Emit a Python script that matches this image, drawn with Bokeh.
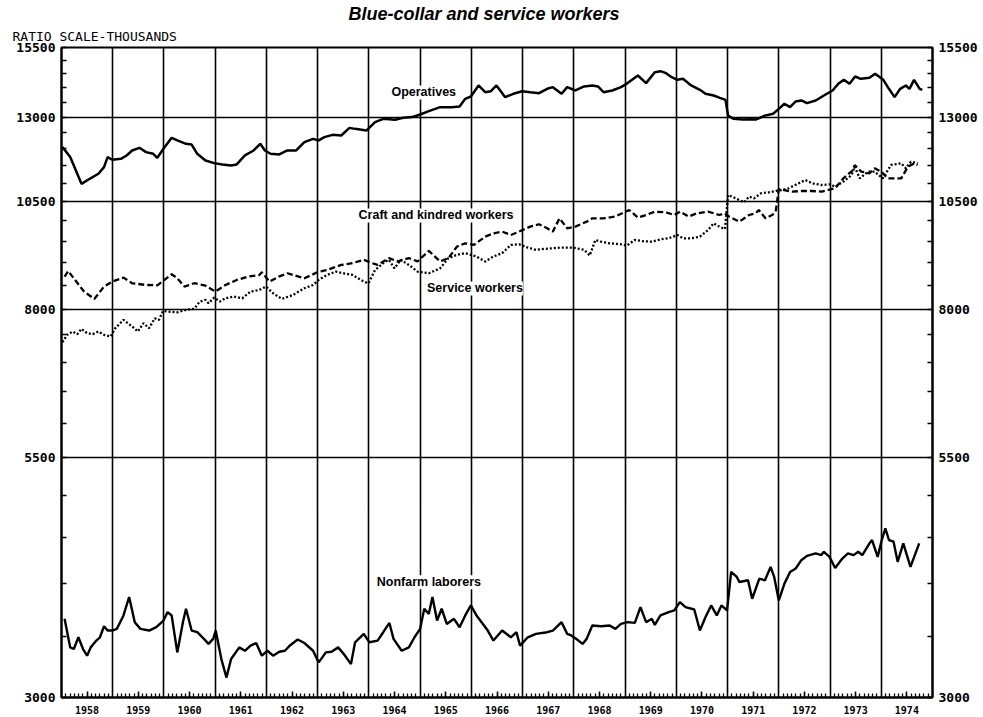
from bokeh.plotting import figure
from bokeh.models import (Range1d, FixedTicker, CustomJSTickFormatter, LogAxis, Label, Title)
from bokeh.embed import file_html
from bokeh.resources import INLINE

# ---------------- data (thousands of workers, ratio scale) ----------------
op_t = [1958.02, 1958.17, 1958.39, 1958.55, 1958.72, 1958.83, 1958.90, 1958.99, 1959.16, 1959.27,
        1959.38, 1959.52, 1959.65, 1959.79, 1959.87, 1959.99, 1960.15, 1960.26, 1960.43, 1960.54,
        1960.65, 1960.81, 1960.98, 1961.14, 1961.31, 1961.42, 1961.58, 1961.75, 1961.88, 1961.97,
        1962.08, 1962.25, 1962.41, 1962.58, 1962.74, 1962.91, 1963.02, 1963.13, 1963.29, 1963.46,
        1963.62, 1963.73, 1963.95, 1964.12, 1964.28, 1964.51, 1964.67, 1964.84, 1965.00, 1965.17,
        1965.39, 1965.61, 1965.77, 1965.88, 1965.99, 1966.14, 1966.27, 1966.38, 1966.49, 1966.66,
        1966.82, 1966.99, 1967.15, 1967.32, 1967.48, 1967.59, 1967.76, 1967.87, 1968.03, 1968.20,
        1968.36, 1968.47, 1968.58, 1968.75, 1968.92, 1969.03, 1969.19, 1969.25, 1969.41, 1969.58,
        1969.69, 1969.80, 1969.91, 1970.02, 1970.13, 1970.29, 1970.46, 1970.57, 1970.73, 1970.85,
        1970.96, 1971.01, 1971.12, 1971.29, 1971.45, 1971.56, 1971.73, 1971.89, 1972.00, 1972.11,
        1972.22, 1972.33, 1972.44, 1972.55, 1972.72, 1972.88, 1973.05, 1973.16, 1973.27, 1973.38,
        1973.49, 1973.60, 1973.77, 1973.88, 1974.04, 1974.15, 1974.26, 1974.37, 1974.48, 1974.55,
        1974.64, 1974.75, 1974.80]
op_v = [12051, 11751, 10983, 11124, 11266, 11456, 11751, 11672, 11700, 11800,
        11949, 12030, 11900, 11850, 11730, 12000, 12338, 12256, 12152, 12130,
        11850, 11651, 11573, 11535, 11505, 11535, 11800, 11949, 12152, 11949,
        11850, 11830, 11949, 11949, 12203, 12306, 12256, 12359, 12431, 12410,
        12652, 12620, 12565, 12836, 12944, 12912, 12977, 13000, 13087, 13198,
        13331, 13331, 13353, 13615, 13696, 14082, 13846, 13880, 14082, 13673,
        13789, 13880, 13846, 13812, 13964, 14023, 13789, 14023, 13905, 14047,
        14082, 14047, 13846, 13905, 14023, 14141, 14357, 14441, 14165, 14564,
        14600, 14527, 14381, 14285, 14321, 14082, 13929, 13789, 13730, 13650,
        13580, 13050, 12944, 12923, 12933, 12923, 13050, 13110, 13275, 13445,
        13331, 13525, 13558, 13468, 13558, 13730, 13905, 14141, 14285, 14141,
        14405, 14321, 14357, 14503, 14285, 13964, 13673, 13964, 14082, 13964,
        14285, 13964, 13929]

craft_t = [1958.06, 1958.13, 1958.44, 1958.64, 1958.83, 1958.99, 1959.21, 1959.38, 1959.65, 1959.87,
           1960.15, 1960.26, 1960.40, 1960.59, 1960.81, 1961.00, 1961.20, 1961.42, 1961.64, 1961.86,
           1961.91, 1962.06, 1962.24, 1962.41, 1962.63, 1962.74, 1963.02, 1963.18, 1963.46, 1963.68,
           1963.90, 1964.06, 1964.17, 1964.39, 1964.56, 1964.78, 1964.95, 1965.17, 1965.39, 1965.55,
           1965.72, 1965.88, 1966.05, 1966.27, 1966.43, 1966.60, 1966.77, 1966.93, 1967.15, 1967.32,
           1967.48, 1967.59, 1967.72, 1967.87, 1968.03, 1968.25, 1968.36, 1968.58, 1968.80, 1969.08,
           1969.25, 1969.41, 1969.58, 1969.80, 1969.96, 1970.07, 1970.24, 1970.40, 1970.62, 1970.84,
           1970.95, 1971.03, 1971.23, 1971.42, 1971.55, 1971.61, 1971.74, 1971.87, 1971.94, 1972.00,
           1972.06, 1972.26, 1972.45, 1972.65, 1972.84, 1972.97, 1973.10, 1973.26, 1973.45, 1973.48,
           1973.61, 1973.77, 1973.87, 1974.00, 1974.13, 1974.39, 1974.52, 1974.65, 1974.71]
craft_v = [8688, 8812, 8366, 8212, 8472, 8580, 8666, 8544, 8507, 8500,
           8740, 8652, 8472, 8544, 8493, 8366, 8507, 8615, 8688, 8724,
           8784, 8580, 8688, 8762, 8688, 8652, 8798, 8835, 8949, 8990,
           9065, 8990, 8949, 9103, 9028, 9103, 9028, 9272, 9028, 9103,
           9374, 9452, 9412, 9612, 9693, 9734, 9652, 9734, 9858, 9917,
           9816, 9734, 10067, 9816, 9858, 9983, 10067, 10067, 10110, 10281,
           10085, 10152, 10238, 10220, 10152, 10238, 10110, 10195, 10238, 10152,
           10195, 10110, 9983, 10152, 10195, 10281, 10067, 10152, 10238, 10840,
           10820, 10769, 10787, 10787, 10769, 10814, 10860, 11137, 11375, 11519,
           11327, 11280, 11423, 11327, 11137, 11137, 11470, 11568, 11519]

serv_t = [1958.02, 1958.11, 1958.22, 1958.31, 1958.39, 1958.50, 1958.61, 1958.72, 1958.83, 1958.96,
          1959.05, 1959.21, 1959.38, 1959.49, 1959.60, 1959.71, 1959.82, 1959.90, 1959.98, 1960.09,
          1960.26, 1960.43, 1960.59, 1960.70, 1960.81, 1960.87, 1960.98, 1961.09, 1961.20, 1961.36,
          1961.53, 1961.69, 1961.86, 1961.99, 1962.13, 1962.30, 1962.52, 1962.74, 1962.91, 1963.02,
          1963.18, 1963.35, 1963.51, 1963.68, 1963.90, 1963.99, 1964.12, 1964.28, 1964.39, 1964.50,
          1964.62, 1964.78, 1964.95, 1965.17, 1965.39, 1965.55, 1965.72, 1965.88, 1966.10, 1966.27,
          1966.43, 1966.60, 1966.77, 1966.93, 1967.10, 1967.26, 1967.43, 1967.59, 1967.76, 1967.98,
          1968.20, 1968.31, 1968.42, 1968.53, 1968.69, 1968.92, 1969.03, 1969.19, 1969.36, 1969.52,
          1969.69, 1969.85, 1970.02, 1970.13, 1970.29, 1970.46, 1970.62, 1970.73, 1970.84, 1970.95,
          1971.01, 1971.16, 1971.32, 1971.42, 1971.52, 1971.65, 1971.81, 1971.94, 1972.06, 1972.19,
          1972.32, 1972.52, 1972.65, 1972.84, 1973.00, 1973.10, 1973.26, 1973.42, 1973.48, 1973.58,
          1973.74, 1973.87, 1974.03, 1974.19, 1974.39, 1974.48, 1974.58, 1974.71]
serv_v = [7362, 7500, 7563, 7513, 7614, 7532, 7513, 7563, 7500, 7469,
          7627, 7788, 7659, 7563, 7724, 7627, 7820, 7788, 7965, 7953,
          7939, 7986, 8010, 8157, 8192, 8123, 8240, 8157, 8226, 8261,
          8226, 8366, 8400, 8472, 8331, 8212, 8295, 8436, 8507, 8615,
          8724, 8798, 8762, 8724, 8580, 8544, 8835, 8990, 9065, 8872,
          9065, 8949, 8798, 8762, 8872, 9103, 9180, 9218, 9142, 9028,
          9142, 9218, 9412, 9428, 9350, 9296, 9319, 9334, 9350, 9350,
          9296, 9165, 9531, 9491, 9452, 9428, 9396, 9531, 9500, 9491,
          9547, 9571, 9652, 9571, 9571, 9612, 9776, 9941, 9858, 9800,
          10678, 10589, 10482, 10634, 10589, 10724, 10750, 10787, 10814, 10860,
          10951, 11090, 10998, 10951, 10970, 10906, 11045, 11232, 11470, 11137,
          11327, 11327, 11137, 11519, 11568, 11423, 11616, 11568]

lab_t = [1958.06, 1958.17, 1958.24, 1958.33, 1958.42, 1958.50, 1958.57, 1958.68, 1958.75, 1958.83,
         1958.90, 1958.99, 1959.08, 1959.21, 1959.32, 1959.43, 1959.54, 1959.71, 1959.85, 1959.99,
         1960.07, 1960.15, 1960.26, 1960.37, 1960.43, 1960.54, 1960.65, 1960.78, 1960.87, 1960.96,
         1961.01, 1961.12, 1961.22, 1961.31, 1961.47, 1961.58, 1961.69, 1961.80, 1961.91, 1962.02,
         1962.13, 1962.25, 1962.36, 1962.47, 1962.61, 1962.74, 1962.91, 1963.02, 1963.16, 1963.27,
         1963.40, 1963.51, 1963.65, 1963.73, 1963.90, 1964.01, 1964.17, 1964.28, 1964.40, 1964.48,
         1964.64, 1964.78, 1964.89, 1965.00, 1965.08, 1965.17, 1965.24, 1965.33, 1965.42, 1965.52,
         1965.66, 1965.77, 1965.88, 1965.99, 1966.10, 1966.21, 1966.32, 1966.43, 1966.60, 1966.77,
         1966.88, 1966.95, 1967.10, 1967.26, 1967.48, 1967.59, 1967.76, 1967.87, 1967.95, 1968.09,
         1968.17, 1968.25, 1968.36, 1968.53, 1968.70, 1968.81, 1968.92, 1969.05, 1969.19, 1969.30,
         1969.41, 1969.52, 1969.58, 1969.69, 1969.85, 1969.96, 1970.07, 1970.18, 1970.35, 1970.46,
         1970.57, 1970.68, 1970.79, 1970.88, 1970.99, 1971.07, 1971.18, 1971.23, 1971.40, 1971.48,
         1971.62, 1971.73, 1971.84, 1971.91, 1972.00, 1972.11, 1972.22, 1972.33, 1972.44, 1972.55,
         1972.72, 1972.83, 1972.88, 1972.99, 1973.10, 1973.24, 1973.35, 1973.46, 1973.55, 1973.63,
         1973.77, 1973.82, 1973.93, 1974.01, 1974.08, 1974.15, 1974.24, 1974.32, 1974.43, 1974.48,
         1974.57, 1974.74]
lab_v = [3660, 3405, 3391, 3493, 3391, 3334, 3405, 3464, 3493, 3592,
         3553, 3553, 3568, 3691, 3867, 3629, 3568, 3553, 3583, 3644,
         3722, 3691, 3362, 3629, 3754, 3553, 3538, 3479, 3435, 3479,
         3553, 3306, 3155, 3306, 3405, 3376, 3420, 3443, 3334, 3376,
         3334, 3368, 3376, 3426, 3473, 3443, 3376, 3278, 3362, 3368,
         3405, 3348, 3264, 3449, 3523, 3449, 3464, 3538, 3622, 3479,
         3376, 3405, 3493, 3568, 3754, 3706, 3867, 3644, 3754, 3613,
         3660, 3583, 3691, 3786, 3691, 3622, 3553, 3464, 3553, 3493,
         3538, 3420, 3493, 3523, 3538, 3553, 3629, 3523, 3509, 3464,
         3435, 3479, 3598, 3592, 3598, 3568, 3613, 3629, 3622, 3770,
         3629, 3660, 3604, 3691, 3722, 3738, 3818, 3770, 3747, 3553,
         3676, 3786, 3691, 3786, 3738, 4120, 4068, 4017, 4034, 3850,
         4051, 4034, 4173, 4068, 3834, 4000, 4120, 4156, 4244, 4291,
         4317, 4299, 4335, 4280, 4162, 4262, 4317, 4299, 4335, 4299,
         4428, 4466, 4280, 4466, 4600, 4466, 4447, 4226, 4428, 4335,
         4173, 4428]

y_major = [3000, 5500, 8000, 10500, 13000, 15500]
y_minor = list(range(3000, 15501, 500))
years = list(range(1958, 1976))
year_mids = [y + 0.5 for y in range(1958, 1975)]
months = [y + m / 12 for y in range(1958, 1975) for m in range(1, 12)]

title_text = "Blue-collar and service workers"
scale_text = "RATIO SCALE-THOUSANDS"

# ---------------- figure ----------------
p = figure(width=983, height=717, x_range=Range1d(1958, 1975), y_range=Range1d(3000, 15500),
           y_axis_type="log", output_backend="svg", toolbar_location=None,
           min_border_left=61, min_border_right=51, min_border_top=47, min_border_bottom=20)
p.background_fill_color = "white"
p.border_fill_color = "white"
p.outline_line_color = "black"
p.outline_line_width = 2

# titles above the frame (first added sits nearest to the frame)
p.add_layout(Title(text=scale_text, align="left", offset=-49, standoff=7,
                   text_font="DejaVu Sans Mono", text_font_style="normal",
                   text_font_size="13px", text_color="black"), "above")
p.add_layout(Title(text=title_text, align="left", offset=287, standoff=0,
                   text_font="Liberation Sans", text_font_style="bold italic",
                   text_font_size="18px", text_color="black"), "above")

yticker = FixedTicker(ticks=y_major, minor_ticks=y_minor)
yfmt = CustomJSTickFormatter(code="return tick.toFixed(0);")

def style_y(ax):
    ax.ticker = yticker
    ax.formatter = yfmt
    ax.axis_line_color = "black"
    ax.axis_line_width = 2
    ax.major_tick_in = 0
    ax.major_tick_out = 0
    ax.minor_tick_in = 5
    ax.minor_tick_out = 0
    ax.minor_tick_line_color = "black"
    ax.minor_tick_line_width = 1.5
    ax.major_label_text_font = "DejaVu Sans Mono"
    ax.major_label_text_font_style = "bold"
    ax.major_label_text_font_size = "13px"
    ax.major_label_text_color = "black"
    ax.major_label_standoff = 6

style_y(p.yaxis[0])
right = LogAxis()
style_y(right)
p.add_layout(right, "right")

xa = p.xaxis[0]
xa.ticker = FixedTicker(ticks=year_mids, minor_ticks=months)
xa.formatter = CustomJSTickFormatter(code="return String(Math.floor(tick));")
xa.axis_line_color = "black"
xa.axis_line_width = 2
xa.major_tick_in = 6
xa.major_tick_out = 0
xa.major_tick_line_width = 1.5
xa.minor_tick_in = 4
xa.minor_tick_out = 0
xa.minor_tick_line_width = 1.3
xa.major_label_text_font = "DejaVu Sans Mono"
xa.major_label_text_font_style = "bold"
xa.major_label_text_font_size = "10px"
xa.major_label_text_color = "black"
xa.major_label_standoff = 8

p.xgrid.ticker = FixedTicker(ticks=years)
p.xgrid.grid_line_color = "black"
p.xgrid.grid_line_width = 1.6
p.ygrid.grid_line_color = "black"
p.ygrid.grid_line_width = 1.6

# ---------------- series ----------------
p.line(op_t, op_v, line_color="black", line_width=2.5)
p.line(craft_t, craft_v, line_color="black", line_width=2.3, line_dash="6 3")
p.line(serv_t, serv_v, line_color="black", line_width=2.3, line_dash="2 2")
p.line(lab_t, lab_v, line_color="black", line_width=2.4)

# ---------------- series labels ----------------
def series_label(txt, x, y):
    p.add_layout(Label(x=x, y=y, text=txt, text_align="center", text_baseline="middle",
                       text_font="Liberation Sans", text_font_style="bold",
                       text_font_size="12.5px", text_color="black",
                       background_fill_color="white", background_fill_alpha=1.0))

series_label("Operatives", 1965.07, 13835)
series_label("Craft and kindred workers", 1965.31, 10140)
series_label("Service workers", 1966.07, 8433)
series_label("Nonfarm laborers", 1965.17, 4013)

open("out.html", "w").write(file_html(p, INLINE))
